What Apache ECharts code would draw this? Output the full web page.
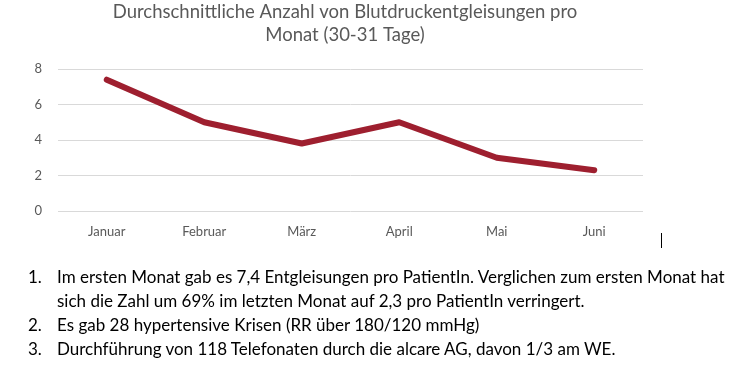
<!DOCTYPE html>
<html>
<head>
<meta charset="utf-8">
<script src="https://cdn.jsdelivr.net/npm/echarts@6/dist/echarts.min.js"></script>
<style>
html,body{margin:0;padding:0;background:#fff;}
#chart{position:absolute;left:0;top:0;width:736px;height:369px;}
#notes{position:absolute;left:0;top:265px;width:736px;font-family:Lato,"Open Sans",sans-serif;font-size:17px;color:#000;line-height:24px;}
.item{display:flex;}
.num{width:29px;margin-left:28px;flex:none;}
.txt{width:679px;flex:none;}
</style>
</head>
<body>
<div id="chart"></div>
<div id="notes"></div>
<script>
var titleLines = ["Durchschnittliche Anzahl von Blutdruckentgleisungen pro", "Monat (30-31 Tage)"];
var categories = ["Januar", "Februar", "März", "April", "Mai", "Juni"];
var values = [7.4, 5.0, 3.8, 5.0, 3.0, 2.3];
var yTicks = [0, 2, 4, 6, 8];
var notes = [
  "Im ersten Monat gab es 7,4 Entgleisungen pro PatientIn. Verglichen zum ersten Monat hat sich die Zahl um 69% im letzten Monat auf 2,3 pro PatientIn verringert.",
  "Es gab 28 hypertensive Krisen (RR über 180/120 mmHg)",
  "Durchführung von 118 Telefonaten durch die alcare AG, davon 1/3 am WE."
];

var notesEl = document.getElementById('notes');
notes.forEach(function (t, i) {
  var d = document.createElement('div');
  d.className = 'item';
  var n = document.createElement('span'); n.className = 'num'; n.textContent = (i + 1) + '.';
  var s = document.createElement('span'); s.className = 'txt'; s.textContent = t;
  d.appendChild(n); d.appendChild(s);
  notesEl.appendChild(d);
});

var chart = echarts.init(document.getElementById('chart'));
var font = 'Lato, "Open Sans", sans-serif';
chart.setOption({
  animation: false,
  grid: {left: 58, right: 93, top: 69, bottom: 158, containLabel: false},
  graphic: [
    {type: 'text', x: 345, y: 3, style: {text: titleLines[0], font: '18.5px ' + font, fill: '#595959', textAlign: 'center'}},
    {type: 'text', x: 345, y: 26, style: {text: titleLines[1], font: '18.5px ' + font, fill: '#595959', textAlign: 'center'}},
    {type: 'line', shape: {x1: 661.5, y1: 233, x2: 661.5, y2: 248}, style: {stroke: '#000', lineWidth: 1}}
  ],
  xAxis: {
    type: 'category',
    data: categories,
    boundaryGap: true,
    axisLine: {show: false},
    axisTick: {show: false},
    axisLabel: {color: '#595959', fontSize: 13, fontFamily: font, margin: 14}
  },
  yAxis: {
    type: 'value',
    min: yTicks[0],
    max: yTicks[yTicks.length - 1],
    interval: 2,
    axisLine: {show: false},
    axisTick: {show: false},
    axisLabel: {color: '#595959', fontSize: 13, fontFamily: font, margin: 16},
    splitLine: {lineStyle: {color: '#d9d9d9', width: 1}}
  },
  series: [{
    type: 'line',
    data: values,
    symbol: 'none',
    lineStyle: {color: '#9E1F2F', width: 6, cap: 'round', join: 'round'}
  }]
});
</script>
</body>
</html>
